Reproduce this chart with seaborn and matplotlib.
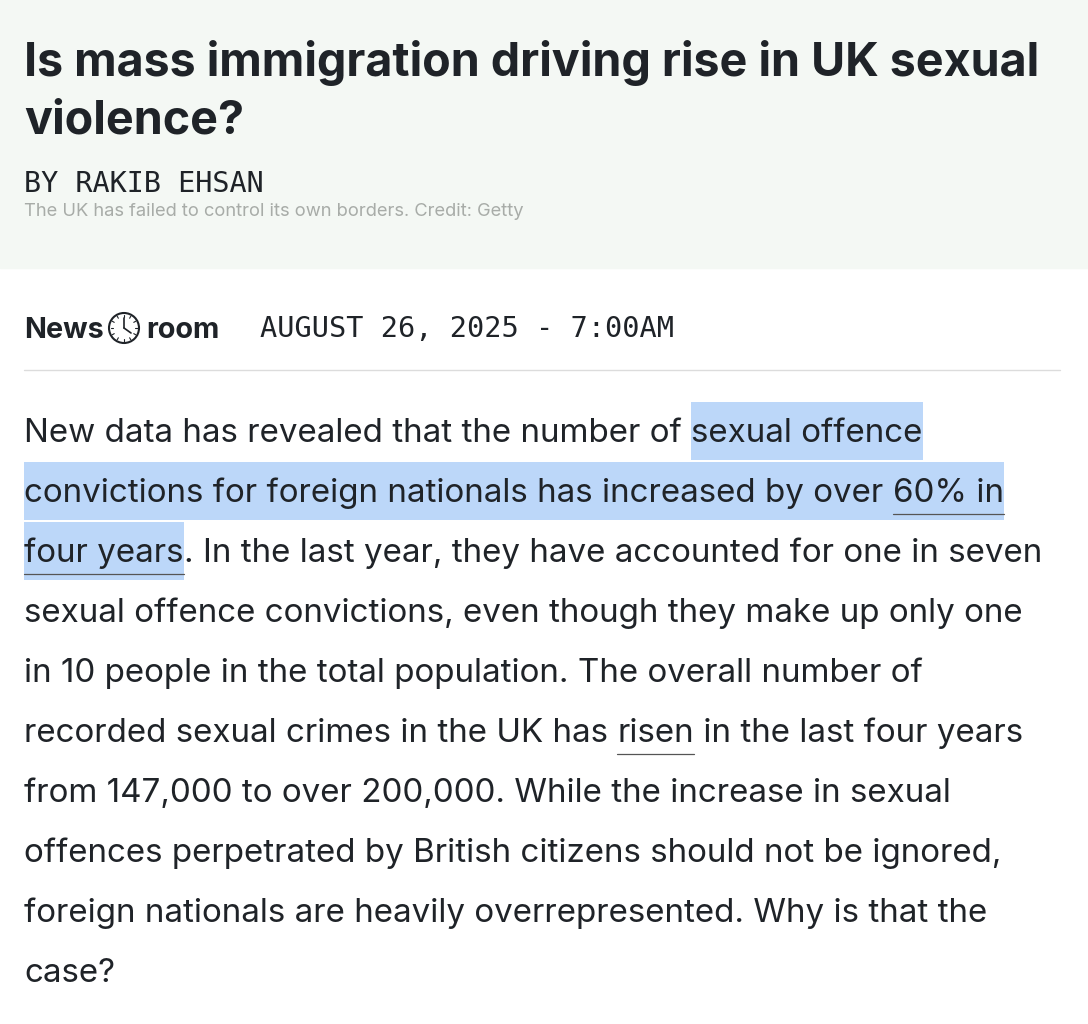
import matplotlib
matplotlib.use("Agg")
import matplotlib.pyplot as plt
import seaborn as sns
import numpy as np
from matplotlib.patches import Rectangle, Circle

sns.set_theme(style="white")
plt.rcParams['font.family'] = ['Inter', 'DejaVu Sans']

# text content
title_lines = ["Is mass immigration driving rise in UK sexual", "violence?"]
byline = "BY RAKIB EHSAN"
caption = "The UK has failed to control its own borders. Credit: Getty"
brand = ["News", "room"]
date_text = "AUGUST 26, 2025 - 7:00AM"
# each body line: list of (segment, highlighted, underlined)
body_lines = [
    [("New data has revealed that the number of ", 0, 0), ("sexual offence", 1, 0)],
    [("convictions for foreign nationals has increased by over ", 1, 0), ("60% in", 1, 1)],
    [("four years", 1, 1), (". In the last year, they have accounted for one in seven", 0, 0)],
    [("sexual offence convictions, even though they make up only one", 0, 0)],
    [("in 10 people in the total population. The overall number of", 0, 0)],
    [("recorded sexual crimes in the UK has ", 0, 0), ("risen", 0, 1), (" in the last four years", 0, 0)],
    [("from 147,000 to over 200,000. While the increase in sexual", 0, 0)],
    [("offences perpetrated by British citizens should not be ignored,", 0, 0)],
    [("foreign nationals are heavily overrepresented. Why is that the", 0, 0)],
    [("case?", 0, 0)],
]

W, H = 1088, 1024
fig = plt.figure(figsize=(W / 100, H / 100), dpi=100)
ax = fig.add_axes([0, 0, 1, 1])
ax.set_xlim(0, W)
ax.set_ylim(H, 0)
ax.axis("off")
fig.canvas.draw()
renderer = fig.canvas.get_renderer()


def width(t):
    return t.get_window_extent(renderer).width


def fit_size(s, target, **kw):
    t = ax.text(0, 0, s, fontsize=20, **kw)
    w = width(t)
    t.remove()
    return 20 * target / w


ink = "#1f2328"

# header band
ax.add_patch(Rectangle((0, 0), W, 268, color="#f4f8f4", zorder=0))

tsize = fit_size(title_lines[0], 1019, fontweight="bold")
for i, line in enumerate(title_lines):
    ax.text(24, 76 + i * 58, line, fontsize=tsize, fontweight="bold", color=ink,
            va="baseline")

msize = fit_size(byline, 241, family="DejaVu Sans Mono")
ax.text(24, 192, byline, fontsize=msize, family="DejaVu Sans Mono", color=ink, va="baseline")
csize = fit_size(caption, 503)
ax.text(24, 216, caption, fontsize=csize, color="#a8aca8", va="baseline")

# Newsroom logo
bsize = fit_size(brand[0], 80, fontweight="bold")
ax.text(24, 338, brand[0], fontsize=bsize, fontweight="bold", color=ink, va="baseline")
ax.text(146, 338, brand[1], fontsize=bsize, fontweight="bold", color=ink, va="baseline")
cx, cy, r = 124, 328, 15
ax.add_patch(Circle((cx, cy), r, fill=False, lw=1.5, ec=ink))
for a in np.arange(0, 360, 30):
    rad = np.deg2rad(a)
    ax.plot([cx + 0.75 * r * np.cos(rad), cx + 0.9 * r * np.cos(rad)],
            [cy + 0.75 * r * np.sin(rad), cy + 0.9 * r * np.sin(rad)], color=ink, lw=0.8)
ax.plot([cx, cx], [cy, cy - 10], color=ink, lw=1.2)
ax.plot([cx, cx + 7], [cy, cy + 5], color=ink, lw=1.2)

dsize = fit_size(date_text, 415, family="DejaVu Sans Mono")
ax.text(260, 337, date_text, fontsize=dsize, family="DejaVu Sans Mono", color=ink, va="baseline")

ax.plot([24, 1060], [370, 370], color="#dcdcdc", lw=1)

# body
psize = fit_size(body_lines[3][0][0], 1000)
for i, segs in enumerate(body_lines):
    cyl = 432 + i * 60
    x = 24
    for s, hl, ul in segs:
        t = ax.text(x, cyl + 10, s, fontsize=psize, color=ink, va="baseline", zorder=3)
        w = width(t)
        if hl:
            ax.add_patch(Rectangle((x, cyl - 30), w, 58, color="#bcd7f9", zorder=1, lw=0))
        if ul:
            ax.plot([x, x + w], [cyl + 22, cyl + 22], color="#555555", lw=0.9, zorder=2)
        x += w

fig.savefig("out.png", dpi=100)
